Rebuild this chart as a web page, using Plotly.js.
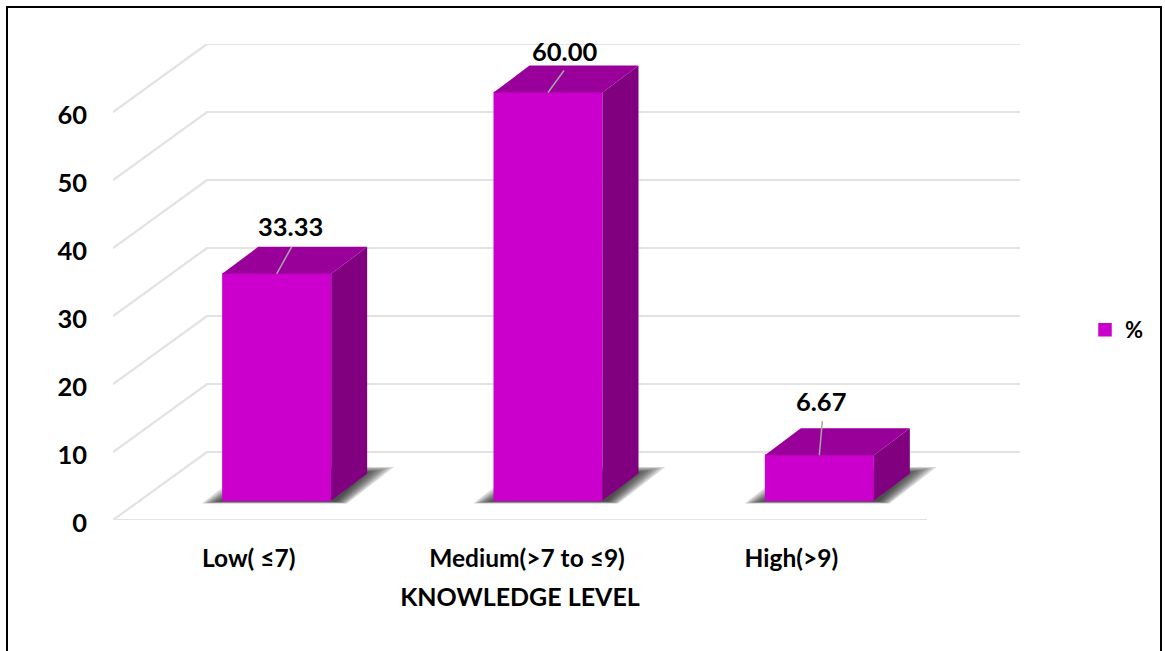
<!DOCTYPE html>
<html>
<head>
<meta charset="utf-8">
<script src="https://cdn.plot.ly/plotly-3.0.1.min.js"></script>
<style>
  html, body { margin: 0; padding: 0; background: #fff; overflow: hidden; }
  #frame { position: absolute; left: 6px; top: 6px; width: 1156px; height: 660px; border: 2px solid #000; box-sizing: border-box; }
  #chart { position: absolute; left: 0; top: 0; width: 1165px; height: 651px; }
</style>
</head>
<body>
<div id="frame"></div>
<div id="chart"></div>
<script>
// Knowledge level distribution
const categories = ['Low( ≤7)', 'Medium(>7 to ≤9)', 'High(>9)'];
const percent = [33.33, 60.00, 6.67];
const percentLabels = ['33.33', '60.00', '6.67'];
const gridValues = [0, 10, 20, 30, 40, 50, 60];
const seriesName = '%';

// Canvas edges in pixels. The front plane spans L..R and T..B, and the
// oblique wall extends to REXT and TEXT.
const W = 1165, H = 651;
const L = 113, R = 927, T = 112, B = 520, REXT = 1020, TEXT = 44;
const pxX = (R - L) / 3;
const pxY = (B - T) / 60;
const ux = px => px / pxX;
const uy = px => px / pxY;

const catPos = categories.map((_, i) => i);
const FONT = 'Lato, "Open Sans", sans-serif';

// Extended ranges of the subplots holding the projected marks
const xExt = [-0.5, 2.5 + ux(REXT - R)];
const yExt = [0, 60 + uy(T - TEXT)];

// Wall and floor projection
const wallDx = ux(94), wallDy = uy(68);
// Bars stand part way into the floor
const barDx = ux(28), barBase = uy(19.5), barW = ux(107.5);
const depthDx = ux(36), depthDy = uy(27);

const polyTrace = (polys, color, axes) => ({
  type: 'scatter', mode: 'lines', hoverinfo: 'skip', showlegend: false,
  x: polys.flatMap(p => p.map(q => q[0]).concat([null])),
  y: polys.flatMap(p => p.map(q => q[1]).concat([null])),
  fill: 'toself', fillcolor: color, line: { width: 0 },
  xaxis: axes[0], yaxis: axes[1]
});

const back = ['x2', 'y2'], front = ['x3', 'y3'];

// The floor's front edge lives on the primary axes, which carry labels and title
const floorTrace = {
  type: 'scatter', mode: 'lines', hoverinfo: 'skip', showlegend: false,
  x: [-0.5, 2.5], y: [0, 0], line: { color: '#e2e2e2', width: 2.2 }, cliponaxis: false
};

// Receding grid lines on the side wall and back wall
const gridX = [], gridY = [];
gridValues.forEach(v => {
  gridX.push(-0.5, -0.5 + wallDx, xExt[1], null);
  gridY.push(v, v + wallDy, v + wallDy, null);
});
const gridTrace = {
  type: 'scatter', mode: 'lines', hoverinfo: 'skip', showlegend: false,
  x: gridX, y: gridY, xaxis: 'x2', yaxis: 'y2',
  line: { color: '#e2e2e2', width: 2.2 }
};

// Soft floor shadows, built from nested translucent parallelograms
const shadowLayers = [0, 1, 2, 3, 4, 5, 6, 7].map(k => {
  const polys = catPos.map(c => {
    const left = c + barDx - barW / 2;
    return [
      [left + ux(-21 + k * 2.5), uy(16.5 + k * 0.3)],
      [left + ux(124 - k * 1.5), uy(16.5 + k * 0.3)],
      [left + ux(171 - k * 4), uy(53 - k * 0.8)],
      [left + ux(26 + k * 4), uy(53 - k * 0.8)]
    ];
  });
  return polyTrace(polys, 'rgba(30,30,30,0.17)', back);
});

// Bar faces
const sidePolys = catPos.map((c, i) => {
  const r = c + barDx + ux(54.5);
  return [[r, barBase], [r + depthDx, barBase + depthDy],
          [r + depthDx, barBase + percent[i] + depthDy], [r, barBase + percent[i]]];
});
const topPolys = catPos.map((c, i) => {
  const l = c + barDx - ux(54.5), r = c + barDx + ux(54.5), y = barBase + percent[i];
  return [[l, y], [r, y], [r + depthDx, y + depthDy], [l + depthDx, y + depthDy]];
});
const frontBars = {
  type: 'bar', name: seriesName, x: catPos.map(c => c + barDx), y: percent,
  base: percent.map(() => barBase), width: barW,
  marker: { color: '#cc00cc', line: { width: 1.5, color: '#cc00cc' } },
  xaxis: 'x3', yaxis: 'y3', hoverinfo: 'y', showlegend: true
};

// Leader lines from the front top edge up to each value label
const leaderEnd = [[15, 27], [16, 22], [3, 34]];
const leaderX = [], leaderY = [];
catPos.forEach((c, i) => {
  const x0 = c + barDx, y0 = barBase + percent[i];
  leaderX.push(x0, x0 + ux(leaderEnd[i][0]), null);
  leaderY.push(y0, y0 + uy(leaderEnd[i][1]), null);
});
const leaderTrace = {
  type: 'scatter', mode: 'lines', hoverinfo: 'skip', showlegend: false,
  x: leaderX, y: leaderY, xaxis: 'x3', yaxis: 'y3',
  line: { color: '#a6a6a6', width: 1.5 }
};

// Value labels sit just above the leader lines
const labelOffset = [[14, 48], [16, 42], [2, 54]];
const annotations = catPos.map((c, i) => ({
  x: c + barDx + ux(labelOffset[i][0]),
  y: barBase + percent[i] + uy(labelOffset[i][1]),
  xref: 'x3', yref: 'y3', text: percentLabels[i], showarrow: false,
  xanchor: 'center', yanchor: 'middle',
  font: { family: FONT, size: 25.5, color: '#000', weight: 700 }
}));

const xFrac = (R - L) / (REXT - L);
const yFrac = (B - T) / (B - TEXT);

Plotly.newPlot('chart', [
  floorTrace, gridTrace, ...shadowLayers,
  frontBars,
  polyTrace(sidePolys, '#800080', front),
  polyTrace(topPolys, '#990099', front),
  leaderTrace
], {
  width: W, height: H,
  margin: { l: L, r: W - REXT, t: TEXT, b: H - B, pad: 0 },
  paper_bgcolor: 'rgba(0,0,0,0)', plot_bgcolor: 'rgba(0,0,0,0)',
  showlegend: true,
  legend: {
    x: (1085 - L) / (REXT - L), y: (B - 330) / (B - TEXT), xanchor: 'left', yanchor: 'middle',
    font: { family: FONT, size: 22, color: '#000', weight: 700 },
    bgcolor: 'rgba(0,0,0,0)', itemwidth: 30
  },
  xaxis: {
    domain: [0, xFrac], range: [-0.5, 2.5], tickmode: 'array',
    tickvals: catPos.map(c => c === 1 ? c + ux(7) : c),
    ticktext: categories,
    showgrid: false, zeroline: false, showline: false, ticks: '',
    ticklabelstandoff: 21,
    tickfont: { family: FONT, size: 24.5, color: '#000', weight: 700 },
    title: { text: 'KNOWLEDGE LEVEL', standoff: 17, font: { family: FONT, size: 25, color: '#000', weight: 700 } }
  },
  yaxis: {
    domain: [0, yFrac], range: [0, 60], tickmode: 'array', tickvals: gridValues,
    showgrid: false, zeroline: false, showline: false, ticks: '',
    ticklabelstandoff: 25, ticklabelshift: 3,
    tickfont: { family: FONT, size: 25.5, color: '#000', weight: 700 }
  },
  xaxis2: { domain: [0, 1], range: xExt, anchor: 'y2', visible: false },
  yaxis2: { domain: [0, 1], range: yExt, anchor: 'x2', visible: false },
  xaxis3: { range: xExt, overlaying: 'x2', anchor: 'y3', visible: false },
  yaxis3: { range: yExt, overlaying: 'y2', anchor: 'x3', visible: false },
  barmode: 'overlay',
  annotations
}, { displayModeBar: false });
</script>
</body>
</html>
